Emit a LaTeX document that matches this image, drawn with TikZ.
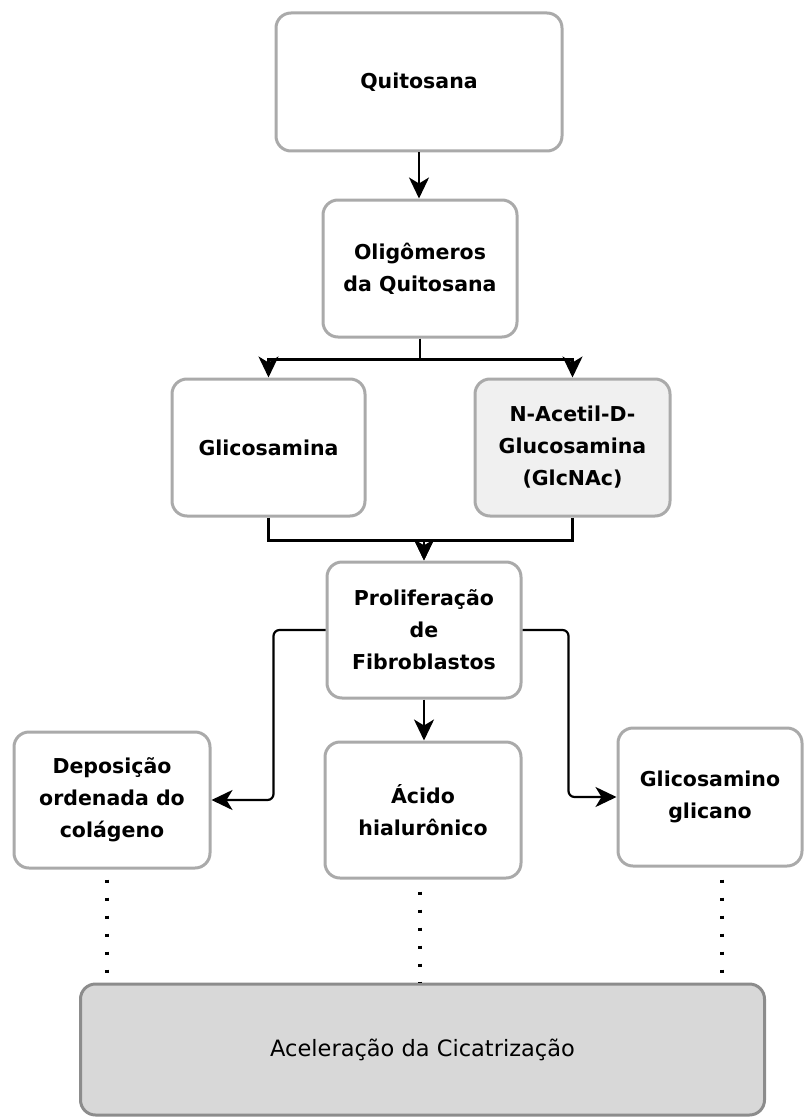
\documentclass[tikz,border=0pt]{standalone}
\usepackage{fontspec}
\setmainfont{DejaVu Sans}
\usetikzlibrary{arrows.meta}
\definecolor{boxline}{RGB}{170,170,170}
\definecolor{boxline2}{RGB}{140,140,140}
\definecolor{lightfill}{RGB}{240,240,240}
\definecolor{darkfill}{RGB}{216,216,216}
\tikzset{
  boxnode/.style={draw=boxline, line width=3pt, rounded corners=15pt, fill=white,
    align=center, inner sep=0pt, font=\bfseries\fontsize{20.5}{32}\selectfont},
  arr/.style={draw=black, line width=2.2pt, -{Stealth[length=21pt,width=20pt,inset=6pt]}},
  dotline/.style={draw=black, line width=3.2pt, dash pattern=on 3.2pt off 14.8pt},
}
\begin{document}
\begin{tikzpicture}[x=1pt,y=-1pt]
\useasboundingbox (0,0) rectangle (803,1118);
\node[boxnode, minimum width=286pt, minimum height=138pt] (q) at (419,82) {Quitosana};
\node[boxnode, minimum width=194pt, minimum height=137pt] (o) at (420,268.5) {Oligômeros\\da Quitosana};
\node[boxnode, minimum width=193pt, minimum height=137pt] (g) at (268.5,447.5) {Glicosamina};
\node[boxnode, fill=lightfill, minimum width=195pt, minimum height=137pt] (n) at (572.5,447.5) {N-Acetil-D-\\Glucosamina\\(GlcNAc)};
\node[boxnode, minimum width=194pt, minimum height=136pt] (p) at (424,630) {Proliferação\\de\\Fibroblastos};
\node[boxnode, minimum width=196pt, minimum height=136pt] (d) at (112,800) {Deposição\\ordenada do\\colágeno};
\node[boxnode, minimum width=196pt, minimum height=136pt] (a) at (423,810) {Ácido\\hialurônico};
\node[boxnode, minimum width=184pt, minimum height=138pt] (gl) at (710,797) {Glicosamino\\glicano};
\node[boxnode, draw=boxline2, fill=darkfill, minimum width=684pt, minimum height=131pt,
  font=\fontsize{22.5}{30}\selectfont] (c) at (422.5,1049.5) {Aceleração da Cicatrização};

\draw[arr] (q.south) -- (q.south |- o.north);
\draw[arr] (o.south) -- ++(0,21) -| (g.north);
\draw[arr] (o.south) -- ++(0,21) -| (n.north);
\draw[arr] (g.south) -- ++(0,23) -| (p.north);
\draw[arr] (n.south) -- ++(0,23) -| (p.north);
\draw[arr] (p.south) -- (p.south |- a.north);
\draw[arr, rounded corners=6pt] (p.west) -- ++(-52,0) |- (d.east);
\draw[arr, rounded corners=6pt] (p.east) -- ++(46,0) |- (gl.west);

\draw[dotline, dash phase=8pt] ([xshift=-5pt]d.south) -- ([xshift=-5pt]d.south |- c.north);
\draw[dotline, dash phase=6pt] ([xshift=-3pt]a.south) -- ([xshift=-3pt]a.south |- c.north);
\draw[dotline, dash phase=6pt] ([xshift=12pt]gl.south) -- ([xshift=12pt]gl.south |- c.north);
\end{tikzpicture}
\end{document}
